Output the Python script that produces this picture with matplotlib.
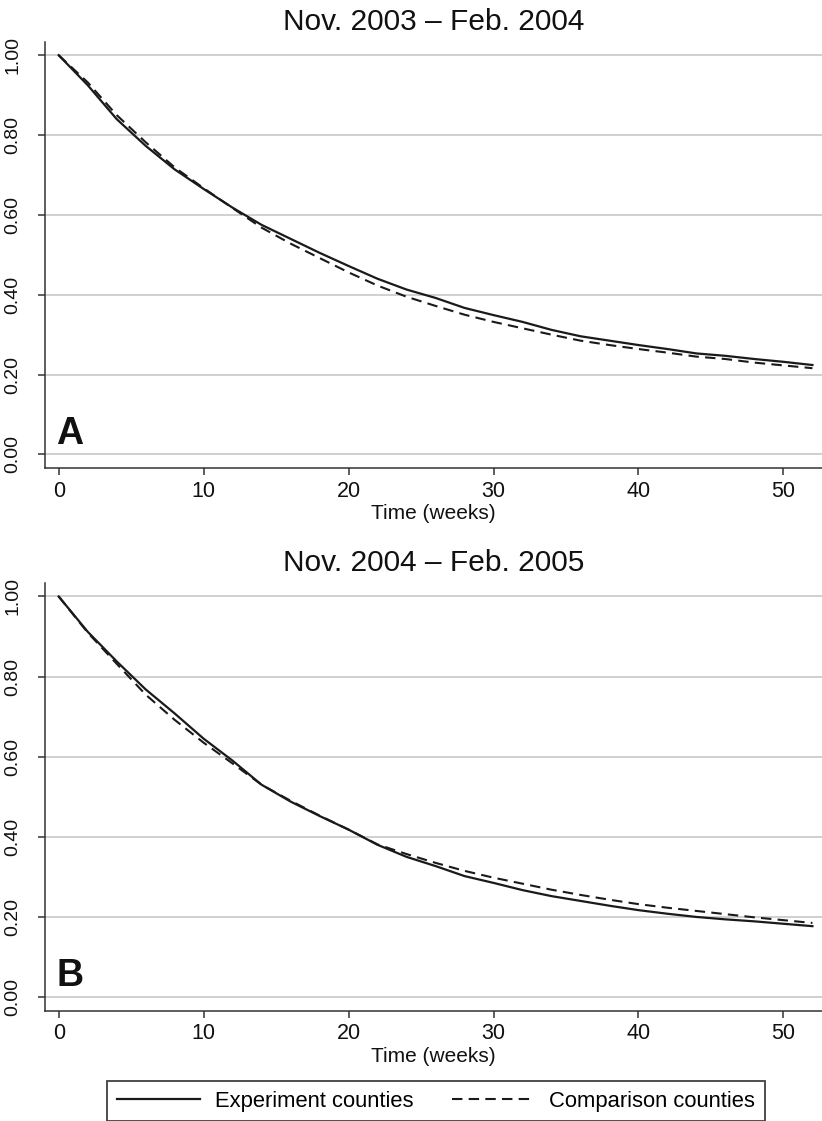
import matplotlib
matplotlib.use('Agg')
import matplotlib.pyplot as plt

plt.rcParams['font.family'] = ['Liberation Sans', 'DejaVu Sans']

weeks = [0, 2, 4, 6, 8, 10, 12, 14, 16, 18, 20, 22, 24, 26,
         28, 30, 32, 34, 36, 38, 40, 42, 44, 46, 48, 50, 52]

# panel A: Nov. 2003 - Feb. 2004
exp_a = [1.000, 0.925, 0.840, 0.773, 0.714, 0.665, 0.618, 0.575, 0.540, 0.505, 0.472, 0.440, 0.413, 0.392,
         0.367, 0.349, 0.332, 0.312, 0.296, 0.285, 0.274, 0.264, 0.253, 0.247, 0.239, 0.232, 0.224]
comp_a = [1.000, 0.932, 0.850, 0.782, 0.719, 0.667, 0.617, 0.568, 0.528, 0.492, 0.456, 0.423, 0.395, 0.372,
          0.350, 0.332, 0.316, 0.300, 0.285, 0.274, 0.264, 0.255, 0.245, 0.239, 0.230, 0.223, 0.216]

# panel B: Nov. 2004 - Feb. 2005
exp_b = [1.000, 0.912, 0.838, 0.768, 0.708, 0.645, 0.590, 0.530, 0.488, 0.452, 0.418, 0.380, 0.350, 0.327,
         0.302, 0.285, 0.267, 0.252, 0.240, 0.228, 0.217, 0.208, 0.200, 0.194, 0.189, 0.183, 0.177]
comp_b = [1.000, 0.910, 0.832, 0.755, 0.692, 0.635, 0.583, 0.530, 0.490, 0.453, 0.418, 0.381, 0.357, 0.335,
          0.315, 0.298, 0.283, 0.268, 0.255, 0.243, 0.232, 0.223, 0.215, 0.207, 0.199, 0.192, 0.185]

titles = ['Nov. 2003 \u2013 Feb. 2004', 'Nov. 2004 \u2013 Feb. 2005']
panel_letters = ['A', 'B']
series_labels = ['Experiment counties', 'Comparison counties']
x_ticks = [0, 10, 20, 30, 40, 50]
y_ticks = [0.0, 0.2, 0.4, 0.6, 0.8, 1.0]

line_color = '#1a1a1a'
grid_color = '#c8c8c8'
spine_color = '#333333'
text_color = '#111111'

fig = plt.figure(figsize=(8.22, 11.21), dpi=100)
ax_a = fig.add_axes([0.0543, 0.5825, 0.9457, 0.38])
ax_b = fig.add_axes([0.0543, 0.0984, 0.9457, 0.3813])

panels = [(ax_a, exp_a, comp_a), (ax_b, exp_b, comp_b)]
handles = []
for i, (ax, exp, comp) in enumerate(panels):
    h1, = ax.plot(weeks, exp, color=line_color, lw=1.6, solid_joinstyle='round')
    h2, = ax.plot(weeks, comp, color=line_color, lw=1.5, linestyle=(0, (5, 3)))
    if i == 0:
        handles = [h1, h2]
    ax.set_xlim(-0.97, 52.66)
    ax.set_ylim(-0.034, 1.033)
    ax.set_xticks(x_ticks)
    ax.set_yticks(y_ticks)
    ax.set_yticklabels([f'{v:.2f}' for v in y_ticks], rotation=90, va='center')
    ax.tick_params(axis='both', length=5, width=1.1, color=spine_color, labelcolor=text_color)
    ax.tick_params(axis='x', labelsize=15.5, pad=4)
    ax.tick_params(axis='y', labelsize=14, pad=12)
    ax.grid(axis='y', color=grid_color, lw=1.2)
    ax.set_axisbelow(True)
    for side in ['top', 'right']:
        ax.spines[side].set_visible(False)
    for side in ['left', 'bottom']:
        ax.spines[side].set_color(spine_color)
        ax.spines[side].set_linewidth(1.1)
    ax.set_title(titles[i], fontsize=21.5, pad=8.5, color=text_color)
    ax.set_xlabel('Time (weeks)', fontsize=15, labelpad=2, color=text_color)
    ax.text(-0.15, 0.027, panel_letters[i], fontsize=27, fontweight='bold', ha='left', va='baseline', color=text_color)

leg = fig.legend(handles, series_labels, loc='center', bbox_to_anchor=(436 / 822, 1 - 1101 / 1121),
                 ncol=2, fontsize=15.8, handlelength=3.8, handletextpad=0.65, columnspacing=1.75,
                 borderpad=0.45, fancybox=False, frameon=True)
leg.get_frame().set_edgecolor(text_color)
leg.get_frame().set_linewidth(1.3)

fig.savefig('out.png', dpi=100)
